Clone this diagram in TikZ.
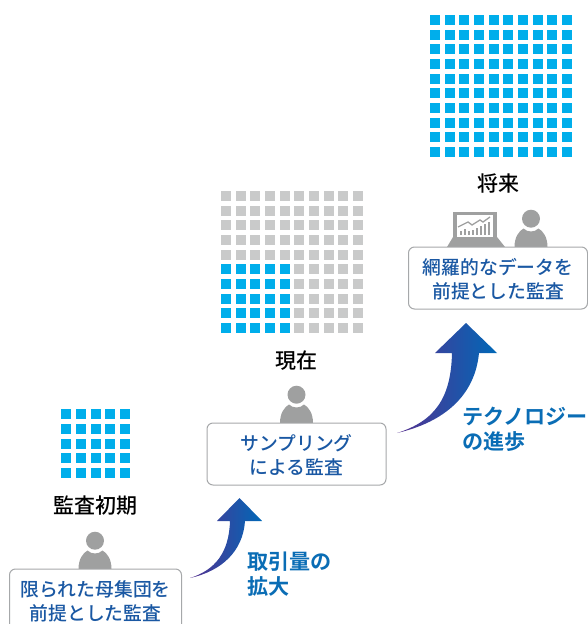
\documentclass[tikz,border=0pt]{standalone}
\usepackage{fontspec}
\setmainfont{Noto Sans CJK JP Medium}
\newfontfamily\jpbold{Noto Sans CJK JP Bold}
\usetikzlibrary{shadings}
\definecolor{cellblue}{HTML}{00AEEB}
\definecolor{cellgray}{HTML}{C9CACA}
\definecolor{boxline}{HTML}{A6A8AA}
\definecolor{boxtext}{HTML}{1A58A3}
\definecolor{growtext}{HTML}{0A6DB5}
\definecolor{icongray}{HTML}{9FA0A0}
\definecolor{arrowleft}{HTML}{553090}
\definecolor{arrowright}{HTML}{0068B7}
\tikzset{
  x=1pt,y=-1pt,
  msgbox/.style={draw=boxline,line width=1pt,rounded corners=6pt,fill=white,align=center,text=boxtext,font=\fontsize{18.8pt}{24pt}\selectfont,inner sep=0pt},
  stagetitle/.style={text=black,font=\fontsize{21pt}{24pt}\selectfont,inner sep=0pt},
  growlabel/.style={text=growtext,font=\jpbold\fontsize{21.1pt}{25pt}\selectfont,align=left,inner sep=0pt,anchor=north west},
  person/.style={fill=icongray,draw=none},
}
\newcommand{\topstrut}{\rule{0pt}{19pt}}
\newcommand{\cellgrid}[7]{% x0,y0,pitchx,pitchy,n,size,colour
  \foreach \i in {1,...,#5}{\foreach \j in {1,...,#5}{
    \fill[#7] ({#1+(\i-1)*#3},{#2+(\j-1)*#4}) rectangle ++(#6,#6);
  }}}
\newcommand{\personicon}[2]{% cx, box top y
  \fill[person] (#1,{#2-28.3}) circle (9);
  \fill[person] ({#1-16.5},#2) .. controls ({#1-16.5},{#2-10}) and ({#1-12},{#2-16}) .. ({#1-7.5},{#2-18.5})
     .. controls ({#1-3.5},{#2-14.5}) and ({#1+3.5},{#2-14.5}) .. ({#1+7.5},{#2-18.5})
     .. controls ({#1+12},{#2-16}) and ({#1+16.5},{#2-10}) .. ({#1+16.5},#2) -- cycle;
}
\begin{document}
\begin{tikzpicture}
\useasboundingbox (0,0) rectangle (588,624);
% grids
\cellgrid{61}{409}{14.75}{14.75}{5}{10}{cellblue}
\cellgrid{221}{191}{14.67}{14.67}{10}{10}{cellgray}
\cellgrid{221}{264.3}{14.67}{14.67}{5}{10}{cellblue}
\cellgrid{430}{15}{14.67}{14.67}{10}{10}{cellblue}
% people
\personicon{95}{569}
\personicon{296.5}{423}
\personicon{531}{247}
% laptop
\fill[icongray] (453,212) rectangle (497,240);
\fill[white] (457,215) rectangle (493,237);
\fill[icongray] (453,237) -- (497,237) -- (505,247) -- (447,247) -- cycle;
\foreach \x/\h in {460/4,464/6.5,468/4.5,472/5,476/7,480/9,484/11,488/13}{
  \fill[icongray] (\x,235) rectangle ++(2.4,-\h);}
\draw[icongray,line width=1.3pt] (458,227) -- (468,222) -- (472,225) -- (480,220) -- (483,222) -- (490,217);
% titles
\node[stagetitle] (t1) at (95,506) {監査初期};
\node[stagetitle] (t2) at (296,361) {現在};
\node[stagetitle] (t3) at (498,184) {将来};
% boxes
\node[msgbox,minimum width=172pt,minimum height=62pt] (b1) at (95.5,600) {\topstrut 限られた母集団を\\前提とした監査};
\node[msgbox,minimum width=179pt,minimum height=62pt] (b2) at (296.5,454) {\topstrut サンプリング\\による監査};
\node[msgbox,minimum width=179pt,minimum height=62pt] (b3) at (498,278) {\topstrut 網羅的なデータを\\前提とした監査};
% arrows
\shade[left color=arrowleft,right color=arrowright,draw=none]
  (190,578) .. controls (215,570) and (229,553) .. (230,521) -- (217,521) -- (239.5,498) -- (262,521) -- (245,521)
  .. controls (243,551) and (222,571) .. (190,578) -- cycle;
\shade[left color=arrowleft,right color=arrowright,draw=none]
  (397,433) .. controls (435,421) and (451,398) .. (452,353) -- (435,353) -- (466,323) -- (497,353) -- (479,353)
  .. controls (475,395) and (445,422) .. (397,433) -- cycle;
% labels
\node[growlabel] (g1) at (247,552) {取引量の\\拡大};
\node[growlabel] (g2) at (462.5,406.5) {テクノロジー\\の進歩};
\end{tikzpicture}
\end{document}
